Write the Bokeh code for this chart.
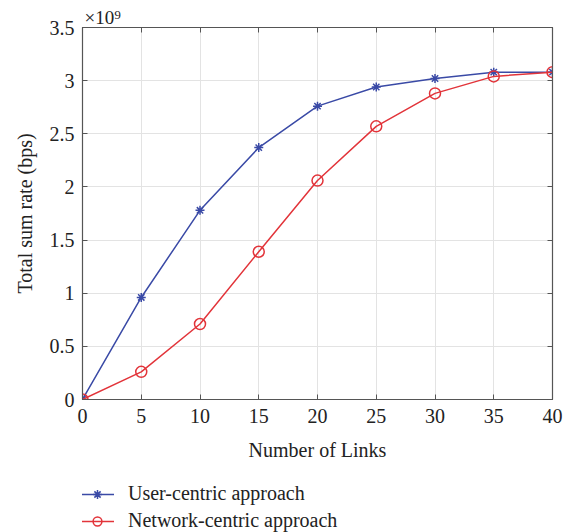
from bokeh.plotting import figure
from bokeh.layouts import column
from bokeh.models import Range1d, LinearAxis, Legend, LegendItem, FixedTicker
from bokeh.embed import file_html
from bokeh.resources import INLINE

links = [0, 5, 10, 15, 20, 25, 30, 35, 40]
user_centric = [0, 0.96, 1.78, 2.37, 2.76, 2.94, 3.02, 3.08, 3.08]
network_centric = [0, 0.26, 0.71, 1.39, 2.06, 2.57, 2.88, 3.04, 3.08]
x_ticks = [0, 5, 10, 15, 20, 25, 30, 35, 40]
y_ticks = [0, 0.5, 1, 1.5, 2, 2.5, 3, 3.5]
y_tick_labels = ["0", "0.5", "1", "1.5", "2", "2.5", "3", "3.5"]
series_names = ["User-centric approach", "Network-centric approach"]

FONT = "Liberation Serif"
BLUE = "#3a4aa6"
RED = "#e2343a"
AXC = "#555555"

p = figure(width=568, height=463, min_border_left=82, min_border_top=27,
           min_border_right=16, min_border_bottom=63,
           x_range=Range1d(0, 40), y_range=Range1d(0, 3.5),
           output_backend="svg", toolbar_location=None,
           title="×10⁹", title_location="above")
p.title.text_font = FONT
p.title.text_font_size = "19px"
p.title.text_font_style = "normal"
p.title.text_color = "#222222"
p.title.align = "left"
p.title.offset = 2
p.title.standoff = 0
p.background_fill_color = "white"
p.border_fill_color = "white"
p.outline_line_color = AXC
p.outline_line_width = 1.2

for ax in (p.xaxis[0], p.yaxis[0]):
    ax.major_tick_in = 5
    ax.major_tick_out = 0
    ax.minor_tick_line_color = None
    ax.axis_line_color = AXC
    ax.major_tick_line_color = AXC
    ax.major_label_text_font = FONT
    ax.major_label_text_font_size = "20px"
    ax.major_label_text_color = "#222222"
    ax.axis_label_text_font = FONT
    ax.axis_label_text_font_size = "20px"
    ax.axis_label_text_font_style = "normal"
    ax.axis_label_text_color = "#222222"

p.xaxis.ticker = FixedTicker(ticks=x_ticks)
p.yaxis.ticker = FixedTicker(ticks=y_ticks)
p.yaxis.major_label_overrides = {t: l for t, l in zip(y_ticks, y_tick_labels)}
p.xaxis.axis_label = "Number of Links"
p.yaxis.axis_label = "Total sum rate (bps)"
p.xaxis.major_label_standoff = 9
p.yaxis.major_label_standoff = 8
p.xaxis.axis_label_standoff = 13
p.yaxis.axis_label_standoff = 11

for loc, tks in (("above", x_ticks), ("right", y_ticks)):
    a = LinearAxis(ticker=FixedTicker(ticks=tks))
    a.major_tick_in = 5
    a.major_tick_out = 0
    a.minor_tick_line_color = None
    a.axis_line_color = AXC
    a.major_tick_line_color = AXC
    a.major_label_overrides = {t: "" for t in tks}
    a.major_label_standoff = 0
    p.add_layout(a, loc)

p.grid.grid_line_color = "#e3e3e3"
p.grid.grid_line_width = 1

p.line(links, user_centric, line_color=BLUE, line_width=1.5)
p.scatter(links, user_centric, marker="asterisk", size=9, line_color=BLUE, line_width=1.5)
p.line(links, network_centric, line_color=RED, line_width=1.5)
p.scatter(links, network_centric, marker="circle", size=11, fill_color=None,
          line_color=RED, line_width=1.5)

# Legend strip below the chart: same series, outside this strip's visible range,
# so only the legend entries show.
lg = figure(width=568, height=69, min_border=0, x_range=Range1d(-100, -99), y_range=Range1d(0, 1),
            x_axis_type=None, y_axis_type=None, output_backend="svg", toolbar_location=None)
lg.outline_line_color = None
lg.grid.visible = False
lg.background_fill_color = "white"
lg.border_fill_color = "white"
l1 = lg.line(links, user_centric, line_color=BLUE, line_width=1.5)
s1 = lg.scatter(links, user_centric, marker="asterisk", size=9, line_color=BLUE, line_width=1.5)
l2 = lg.line(links, network_centric, line_color=RED, line_width=1.5)
s2 = lg.scatter(links, network_centric, marker="circle", size=11, fill_color=None,
                line_color=RED, line_width=1.5)

legend = Legend(items=[LegendItem(label=series_names[0], renderers=[l1, s1]),
                       LegendItem(label=series_names[1], renderers=[l2, s2])],
                location=(-2, 0), orientation="vertical")
legend.label_text_font = FONT
legend.label_text_font_size = "20px"
legend.label_text_color = "#222222"
legend.border_line_color = None
legend.background_fill_alpha = 0
legend.glyph_width = 34
legend.label_standoff = 14
legend.spacing = 4
legend.margin = 0
legend.padding = 2
legend.label_height = 22
legend.glyph_height = 22
lg.add_layout(legend, "center")

layout = column(p, lg, spacing=0)
open("out.html", "w").write(file_html(layout, INLINE))
